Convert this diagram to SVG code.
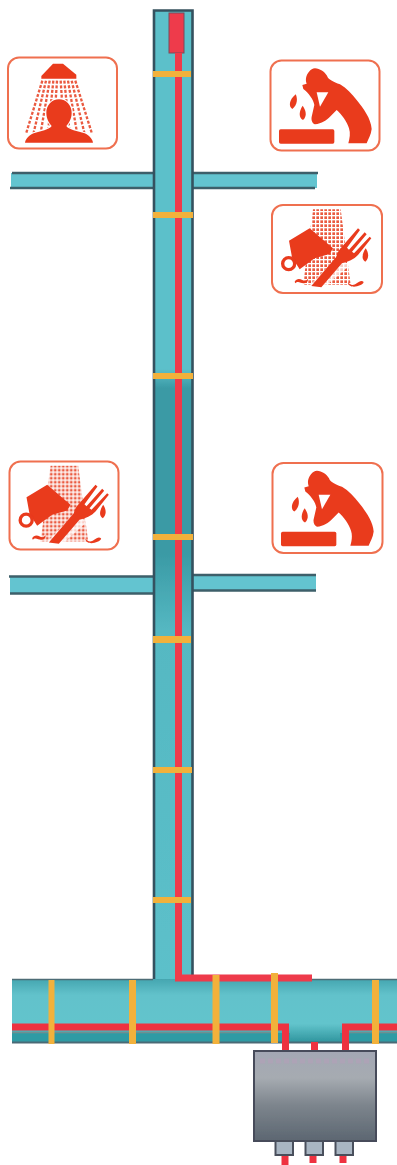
<svg xmlns="http://www.w3.org/2000/svg" xmlns:xlink="http://www.w3.org/1999/xlink" width="397" height="1165" viewBox="0 0 397 1165">
<style>
.frame{fill:#fff;stroke:#ef6f4f;stroke-width:2}
.ink{fill:#e93a1f}
.wall{stroke:#34515e;stroke-width:2.6;fill:none}
.branchwall{stroke:#3d5f6a;stroke-width:2.6;fill:none}
.band{fill:#f2b13a}
.heat{fill:#ee3b4c}
.foot{fill:#a9b6c3;stroke:#4a4f5c;stroke-width:2}
.ray{stroke:#ea5a40;stroke-width:7;stroke-dasharray:9 5;fill:none}
</style>
<defs>
<filter id="soft" x="-5%" y="-5%" width="110%" height="110%"><feGaussianBlur stdDeviation="0.5"/></filter>
<linearGradient id="riser" x1="0" y1="0" x2="0" y2="1">
<stop offset="0" stop-color="#5cc0ca"/><stop offset=".37" stop-color="#5cc0ca"/><stop offset=".39" stop-color="#3a9aa5"/><stop offset=".56" stop-color="#3a9aa5"/><stop offset=".64" stop-color="#55b8c2"/><stop offset="1" stop-color="#5cc0ca"/>
</linearGradient>
<linearGradient id="main" x1="0" y1="0" x2="0" y2="1">
<stop offset="0" stop-color="#45a6b0"/><stop offset=".25" stop-color="#62c2cb"/><stop offset=".7" stop-color="#62c4cc"/><stop offset="1" stop-color="#2d939c"/>
</linearGradient>
<linearGradient id="box" x1="0" y1="0" x2="0" y2="1">
<stop offset="0" stop-color="#a3a7b4"/><stop offset=".3" stop-color="#a6abb1"/><stop offset=".6" stop-color="#7d858d"/><stop offset="1" stop-color="#5c6671"/>
</linearGradient>
<pattern id="dots" width="12" height="12" patternUnits="userSpaceOnUse"><rect x="1" y="1" width="8" height="8" fill="#ea5a40"/></pattern>
<g id="wash">
<path class="ink" d="M150 40C165 41 178 50 186 62C190 74 205 80 225 88C245 100 262 118 275 135C295 160 318 190 320 222C318 240 310 252 305 265H250C254 250 257 235 252 220C246 200 230 178 215 165L195 185C185 195 170 205 150 208C142 205 138 195 140 185L148 150C146 135 130 112 115 102L112 90L125 86C120 72 124 60 132 50C137 44 143 40 150 40Z"/>
<path fill="#fff" d="M155 112L190 112L165 155Z"/>
<path class="ink" d="M92 118C98 130 98 150 82 162C70 155 72 135 92 118Z"/>
<path class="ink" d="M113 152C122 165 128 182 114 195C100 188 102 168 113 152Z"/>
<rect class="ink" x="42" y="223" width="166" height="43" rx="5"/>
</g>
<g id="cup">
<path fill="url(#dots)" d="M135 28H218L248 255H105Z"/>
<path fill="#fff" d="M125 255L220 160L240 200L160 270Z" opacity=".7"/>
<path class="ink" d="M63 122L125 85L195 145L185 162L140 175L95 208L72 172Z"/>
<circle cx="62" cy="191" r="18" fill="none" stroke="#e93a1f" stroke-width="10"/>
<path class="ink" d="M130 258L205 170C207 160 212 152 218 145L270 85L276 90L237 143L243 149L290 97L296 103L252 155L258 160L305 110L310 115L270 165C258 178 240 185 222 190L160 262Z"/>
<path class="ink" d="M293 145C300 155 306 172 292 185C278 178 284 158 293 145Z"/>
<path class="ink" d="M80 245C85 235 95 235 103 240C110 244 116 242 120 236C122 248 108 252 98 248C90 245 86 246 82 250Z"/>
<path class="ink" d="M240 246C246 256 256 258 266 250C274 243 282 240 287 246C284 256 270 258 258 260C248 260 240 256 240 246Z"/>
</g>
</defs>
<rect width="397" height="1165" fill="#fff"/>
<g filter="url(#soft)">
<g id="connectors">
<g id="upper-branches">
<rect x="11" y="173" width="143" height="15" fill="#63c4d0"/><path class="branchwall" d="M12 173H154M10 188H154"/>
<rect x="192" y="173" width="125" height="15" fill="#63c4d0"/><path class="branchwall" d="M192 173H318M192 188H315"/>
</g>
<g id="lower-branches">
<rect x="10" y="577" width="146" height="17" fill="#63c4d0"/><path class="branchwall" d="M9 576.500H155M10 593.500H158"/>
<rect x="189" y="575" width="127" height="16" fill="#63c4d0"/><path class="branchwall" d="M190 575H316M191 590.500H316"/>
</g>
<g id="riser-pipe">
<rect x="153" y="10" width="40" height="970" fill="url(#riser)"/>
<path class="wall" d="M154 980V10.500H192.500V980"/>
</g>
<g id="main-pipe">
<rect x="12" y="979" width="385" height="64" fill="url(#main)"/>
<rect x="12" y="1033" width="278" height="10" fill="#2f9ba4"/>
<rect x="340" y="1033" width="57" height="10" fill="#2f9ba4"/>
<path d="M12 979.500H153M193 979.500H397" stroke="#4e6c76" stroke-width="1.600" fill="none"/>
<path d="M12 1042.500H397" stroke="#4a6a76" stroke-width="2" fill="none"/>
<path d="M12 1032.500H278M349 1032.500H397" stroke="#6f8f90" stroke-width="1.500" fill="none"/>
</g>
<g id="heat-trace">
<rect class="heat" x="169" y="13" width="15" height="40" stroke="#7a4b58" stroke-width="1"/>
<path fill="none" stroke="#ee3b4c" stroke-width="7" d="M178.500 53V978H312"/>
<path fill="none" stroke="#ee3340" stroke-width="7" d="M12 1027H285.500V1051"/>
<path fill="none" stroke="#ee3340" stroke-width="7" d="M397 1027H345.500V1051"/>
<path fill="none" stroke="#ee3340" stroke-width="7" d="M314.500 1042V1051M285 1155V1165M313 1155V1163M343 1155V1163"/>
</g>
<g id="bands">
<rect class="band" x="153" y="71" width="38" height="6"/>
<rect class="band" x="153" y="212" width="40" height="6"/>
<rect class="band" x="153" y="373" width="40" height="6"/>
<rect class="band" x="153" y="534" width="40" height="6"/>
<rect class="band" x="153" y="636" width="38" height="7"/>
<rect class="band" x="153" y="767" width="39" height="6"/>
<rect class="band" x="153" y="897" width="38" height="6"/>
<rect class="band" x="48.500" y="980" width="6" height="64"/>
<rect class="band" x="129" y="980" width="7" height="64"/>
<rect class="band" x="212.500" y="975" width="7" height="69"/>
<rect class="band" x="271" y="973" width="7" height="70"/>
<rect class="band" x="372" y="980" width="7" height="64"/>
</g>
</g>
<g id="control-box">
<rect x="254" y="1051" width="122" height="90" fill="url(#box)" stroke="#474c5a" stroke-width="2"/>
<path d="M260 1061H372" stroke="#b49fb8" stroke-width="5" stroke-dasharray="5 3" opacity=".55" fill="none"/>
<rect class="foot" x="275.500" y="1141" width="17.500" height="14"/>
<rect class="foot" x="305.500" y="1141" width="17.500" height="14"/>
<rect class="foot" x="335.500" y="1141" width="17.500" height="14"/>
</g>
<g id="icon-shower">
<rect class="frame" x="8" y="57.500" width="109" height="91" rx="11"/>
<g transform="translate(3 52) scale(.33333)">
<path class="ray" d="M118 86L70 242M129 86L92 242M140 86L113 242M151 86L135 242M162 86L157 160M173 86L178 160M184 86L200 242M195 86L222 242M206 86L244 242M217 86L266 242"/>
<path class="ink" d="M115 72L150 35H180L220 68V80H115Z"/>
<path class="ink" stroke="#fff" stroke-width="7" paint-order="stroke" d="M168 142C190 142 206 160 206 182C206 200 198 212 190 222C195 232 225 238 245 244C258 250 268 260 270 272H66C68 260 78 250 92 244C112 238 140 232 146 222C138 212 130 200 130 182C130 160 146 142 168 142Z"/>
</g>
</g>
<g id="icon-wash-top">
<rect class="frame" x="270.500" y="60.500" width="109" height="90" rx="11"/>
<use xlink:href="#wash" transform="translate(265 55) scale(.33333)"/>
</g>
<g id="icon-dishes-top">
<rect class="frame" x="272" y="205" width="110" height="88" rx="11"/>
<use xlink:href="#cup" transform="translate(268 200) scale(.33333)"/>
</g>
<g id="icon-dishes-lower">
<rect class="frame" x="9.500" y="461.500" width="109" height="88" rx="11"/>
<use xlink:href="#cup" transform="translate(5.500 456.500) scale(.33333)"/>
</g>
<g id="icon-wash-lower">
<rect class="frame" x="272.500" y="463" width="110" height="90" rx="11"/>
<use xlink:href="#wash" transform="translate(267 457.500) scale(.33333)"/>
</g>
</g>
</svg>
